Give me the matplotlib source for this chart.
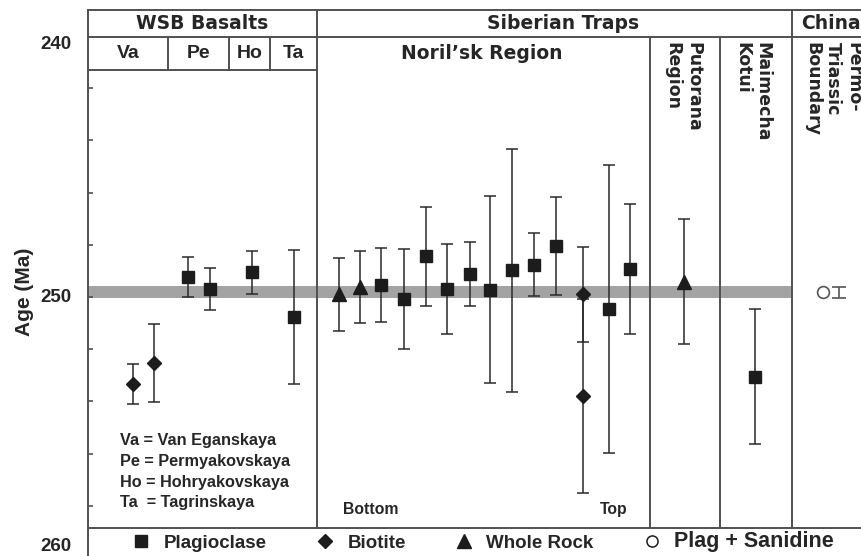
import matplotlib.pyplot as plt
from matplotlib.lines import Line2D

# ---- data (ages in Ma, +- error) --------------------------------------------
# x positions in column units of the table (0 = left frame)
wsb_x = [4.5, 6.6, 10.0, 12.2, 16.4, 20.6]
wsb_age = [253.33, 252.52, 249.23, 249.69, 249.06, 250.77]
wsb_err = [0.77, 1.50, 0.77, 0.81, 0.82, 2.57]
wsb_kind = ['bio', 'bio', 'plag', 'plag', 'plag', 'plag']

noril_x = [25.1, 27.2, 29.3, 31.6, 33.8, 35.9, 38.2, 40.2, 42.4, 44.6, 46.8, 49.5, 49.5, 52.1, 54.2]
noril_age = [249.90, 249.62, 249.55, 250.08, 248.44, 249.69, 249.12, 249.72, 248.97,
             248.76, 248.04, 249.90, 253.80, 250.47, 248.93]
noril_err = [1.39, 1.39, 1.42, 1.91, 1.89, 1.72, 1.21, 3.59, 4.66,
             1.20, 1.88, 1.81, 3.72, 5.52, 2.49]
noril_kind = ['wr', 'wr', 'plag', 'plag', 'plag', 'plag', 'plag', 'plag', 'plag',
              'plag', 'plag', 'bio', 'bio', 'plag', 'plag']

putorana_x, putorana_age, putorana_err = [59.6], [249.41], [2.39]
maimecha_x, maimecha_age, maimecha_err = [66.7], [253.05], [2.60]
china_x, china_age, china_err = [73.5], [249.82], [0.21]

band = (249.58, 250.04)   # grey reference band

# table layout (column borders, row borders)
wsb_sub_cols = [8.0, 14.1, 18.2]
wsb_sub_names = ['Va', 'Pe', 'Ho', 'Ta']
wsb_sub_centers = [4.0, 11.05, 16.15, 20.55]
col_wsb_sib, col_nor_put, col_put_mai, col_sib_chi = 22.9, 56.2, 63.2, 70.4
row1, row2, row_leg = 240.04, 241.30, 258.85
x_max, y_top, y_bot = 84.2, 239.0, 260.08

abbrevs = ['Va = Van Eganskaya', 'Pe = Permyakovskaya', 'Ho = Hohryakovskaya', 'Ta  = Tagrinskaya']

markers = {'plag': ('s', 8.5), 'bio': ('D', 7.5), 'wr': ('^', 10)}
dark = '#1c1c1c'
linec = '#505050'

# ---- figure -------------------------------------------------------------------
plt.rcParams['font.family'] = ['Liberation Sans', 'DejaVu Sans']
fig = plt.figure(figsize=(8.61, 5.56), dpi=100)
ax = fig.add_axes([88 / 861, -4 / 556, (930 - 88) / 861, 550 / 556])
ax.set_xlim(0, x_max)
ax.set_ylim(y_bot, y_top)
for s in ax.spines.values():
    s.set_color(linec)
    s.set_linewidth(1.4)
ax.set_xticks([])
ax.set_yticks(range(242, 259, 2))
ax.set_yticklabels([])
ax.tick_params(axis='y', direction='in', length=3.5, width=1.2, color=linec)

# grey band
ax.fill_between([0, col_sib_chi], band[0], band[1], color='#a3a3a3', lw=0, zorder=1)

# table lines
lk = dict(color=linec, lw=1.4, zorder=2)
ax.plot([0, x_max], [row1, row1], **lk)
ax.plot([0, col_wsb_sib], [row2, row2], **lk)
ax.plot([0, x_max], [row_leg, row_leg], **lk)
for c in [col_wsb_sib, col_sib_chi]:
    ax.plot([c, c], [y_top, row_leg], **lk)
for c in [col_nor_put, col_put_mai]:
    ax.plot([c, c], [row1, row_leg], **lk)
for c in wsb_sub_cols:
    ax.plot([c, c], [row1, row2], **lk)


def draw(xs, ages, errs, kinds):
    for x, a, e, k in zip(xs, ages, errs, kinds):
        m, ms = markers[k]
        ax.errorbar(x, a, yerr=e, fmt=m, ms=ms, color=dark, ecolor='#2a2a2a',
                    elinewidth=1.1, capsize=4, capthick=1.1, zorder=4)


draw(wsb_x, wsb_age, wsb_err, wsb_kind)
draw(noril_x, noril_age, noril_err, noril_kind)
draw(putorana_x, putorana_age, putorana_err, ['wr'])
draw(maimecha_x, maimecha_age, maimecha_err, ['plag'])

# china: open circle with its error bar drawn just beside it
ax.plot(china_x, china_age, 'o', ms=8.5, mfc='white', mec='#555555', mew=1.2, zorder=4)
ax.errorbar([x + 1.6 for x in china_x], china_age, yerr=china_err, fmt='none',
            ecolor='#555555', elinewidth=1.2, capsize=5, capthick=1.2, zorder=4)

# ---- text -----------------------------------------------------------------------
hdr = dict(family='DejaVu Sans', fontweight='bold', fontsize=13.5, color='#262626')
ax.text(col_wsb_sib / 2, (y_top + row1) / 2, 'WSB Basalts', ha='center', va='center', **hdr)
ax.text(47.5, (y_top + row1) / 2, 'Siberian Traps', ha='center', va='center', **hdr)
ax.text(71.3, (y_top + row1) / 2, 'China', ha='left', va='center', **hdr)
ax.text(39.4, (row1 + row2) / 2, 'Noril\u2019sk Region', ha='center', va='center', **hdr)
for xc, name in zip(wsb_sub_centers, wsb_sub_names):
    ax.text(xc, (row1 + row2) / 2, name, ha='center', va='center',
            fontweight='bold', fontsize=14, color='#262626')

vt = dict(family='DejaVu Sans', fontweight='bold', fontsize=12.5, color='#262626',
          rotation=-90, ha='center', va='top', multialignment='left', linespacing=1.18)
ax.text(59.5, 240.23, 'Putorana\nRegion', **vt)
ax.text(66.45, 240.23, 'Maimecha\nKotui', **vt)
ax.text(74.45, 240.23, 'Permo-\nTriassic\nBoundary', **vt)

for i, line in enumerate(abbrevs):
    ax.text(3.2, 255.51 + i * 0.795, line, ha='left', va='center',
            fontweight='bold', fontsize=11.7, color='#262626')

ax.text(25.5, 258.16, 'Bottom', ha='left', va='center', fontweight='bold', fontsize=11.3, color='#262626')
ax.text(51.2, 258.16, 'Top', ha='left', va='center', fontweight='bold', fontsize=11.3, color='#262626')

# y labels
for val, ypos in [('240', 240.34), ('250', 250.0), ('260', 259.58)]:
    ax.annotate(val, xy=(0, ypos), xycoords=('axes fraction', 'data'), xytext=(-12, 0),
                textcoords='offset points', ha='right', va='center',
                fontweight='bold', fontsize=13.5, color='#262626', annotation_clip=False)
fig.text(25 / 861, 1 - 292 / 556, 'Age (Ma)', rotation=90, ha='center', va='center',
         fontweight='bold', fontsize=15, color='#262626')

# legend
handles = [
    Line2D([], [], ls='none', marker='s', ms=8, color=dark),
    Line2D([], [], ls='none', marker='D', ms=7, color=dark),
    Line2D([], [], ls='none', marker='^', ms=10, color=dark),
    Line2D([], [], ls='none', marker='o', ms=8, mfc='white', mec=dark, mew=1.1),
]
labels = ['Plagioclase', 'Biotite', 'Whole Rock', 'Plag + Sanidine']
leg = fig.legend(handles, labels, loc='center', bbox_to_anchor=(482 / 861, 1 - 542 / 556), ncol=4,
                 frameon=False, prop=dict(weight='bold', size=13.5), handletextpad=0.6,
                 columnspacing=2.5, handlelength=1.2, labelcolor='#262626')
leg.get_texts()[3].set_fontsize(15.5)

fig.savefig('out.png', dpi=100)
